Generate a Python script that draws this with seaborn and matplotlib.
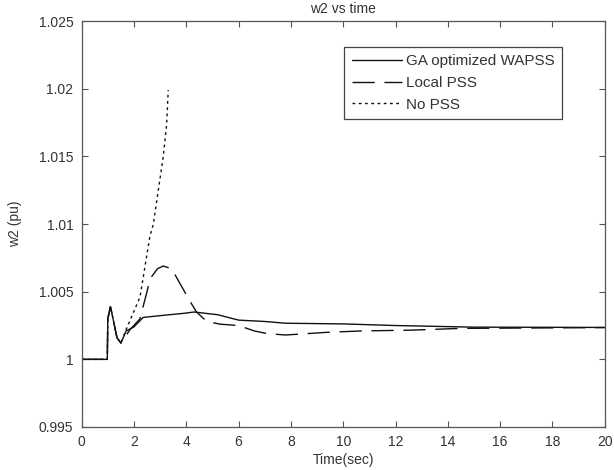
import numpy as np
import pandas as pd
import matplotlib
matplotlib.use('Agg')
import matplotlib.pyplot as plt
import matplotlib.ticker as mticker
import seaborn as sns

# values
t_common = [0.0, 0.98, 1.0, 1.1, 1.2, 1.35, 1.5]
w_common = [1.0, 1.0, 1.0030, 1.0039, 1.0030, 1.0016, 1.0012]

t_ga = [1.7, 2.0, 2.35, 2.6, 3.2, 3.9, 4.3, 5.2, 6.0, 7.0, 7.8, 10.0, 12.0, 15.0, 20.0]
w_ga = [1.0021, 1.0024, 1.0031, 1.00315, 1.00327, 1.0034, 1.0035, 1.0033, 1.0029,
        1.0028, 1.00267, 1.00262, 1.00250, 1.00238, 1.00236]

t_local = [1.85, 2.23, 2.55, 2.67, 2.9, 3.12, 3.44, 3.76, 4.14, 4.39, 4.78, 5.3,
           6.0, 6.6, 7.1, 7.8, 8.6, 9.4, 10.7, 12.6, 14.5, 18.3, 20.0]
w_local = [1.0022, 1.0030, 1.0054, 1.0061, 1.0067, 1.0069, 1.0067, 1.0056, 1.0043,
           1.0035, 1.0028, 1.0026, 1.0025, 1.0021, 1.0019, 1.0018, 1.0019, 1.0020,
           1.0021, 1.00216, 1.00229, 1.00233, 1.00235]

t_nopss = [1.72, 2.23, 2.61, 2.74, 2.93, 3.12, 3.25, 3.31]
w_nopss = [1.0023, 1.0046, 1.0091, 1.0100, 1.0125, 1.0150, 1.0174, 1.0199]

series = {
    'GA optimized WAPSS': (t_common + t_ga, w_common + w_ga),
    'Local PSS': (t_common + t_local, w_common + w_local),
    'No PSS': (t_common + t_nopss, w_common + w_nopss),
}
styles = {
    'GA optimized WAPSS': '-',
    'Local PSS': (0, (16, 7)),
    'No PSS': (0, (2, 2.5)),
}

sns.set_style('ticks')
plt.rcParams['font.family'] = ['Liberation Sans', 'DejaVu Sans']
txt = '#333333'

fig, ax = plt.subplots(figsize=(6.14, 4.70), dpi=100)
fig.subplots_adjust(left=0.133, right=0.985, top=0.955, bottom=0.0915)

for name, (t, w) in series.items():
    df = pd.DataFrame({'t': t, 'w': w})
    sns.lineplot(data=df, x='t', y='w', ax=ax, color='#111111', linewidth=1.0,
                 linestyle=styles[name], label=name, estimator=None, sort=False)

ax.set_xlim(0, 20)
ax.set_ylim(0.995, 1.025)
ax.set_xticks(np.arange(0, 21, 2))
ax.set_yticks([0.995, 1.0, 1.005, 1.01, 1.015, 1.02, 1.025])
ax.yaxis.set_major_formatter(mticker.FormatStrFormatter('%g'))
ax.tick_params(direction='in', top=True, right=True, length=4, width=0.8,
               labelsize=10, labelcolor=txt, color='#555555')
ax.tick_params(axis='x', pad=6)
ax.tick_params(axis='y', pad=6)
for s in ax.spines.values():
    s.set_color('#555555')
    s.set_linewidth(0.9)

ax.set_xlabel('Time(sec)', fontsize=10, color=txt, labelpad=3)
ax.set_ylabel('w2 (pu)', fontsize=10, color=txt, labelpad=12)
ax.set_title('w2 vs time', fontsize=10, color=txt, pad=6)

leg = ax.legend(loc='upper right', bbox_to_anchor=(0.918, 0.937), fontsize=11,
                handlelength=3.3, handletextpad=0.2, borderaxespad=0,
                fancybox=False, framealpha=1, labelspacing=0.5, borderpad=0.5)
leg.get_frame().set_edgecolor('#444444')
leg.get_frame().set_linewidth(0.9)
for text in leg.get_texts():
    text.set_color(txt)

fig.savefig('out.png', dpi=100)
